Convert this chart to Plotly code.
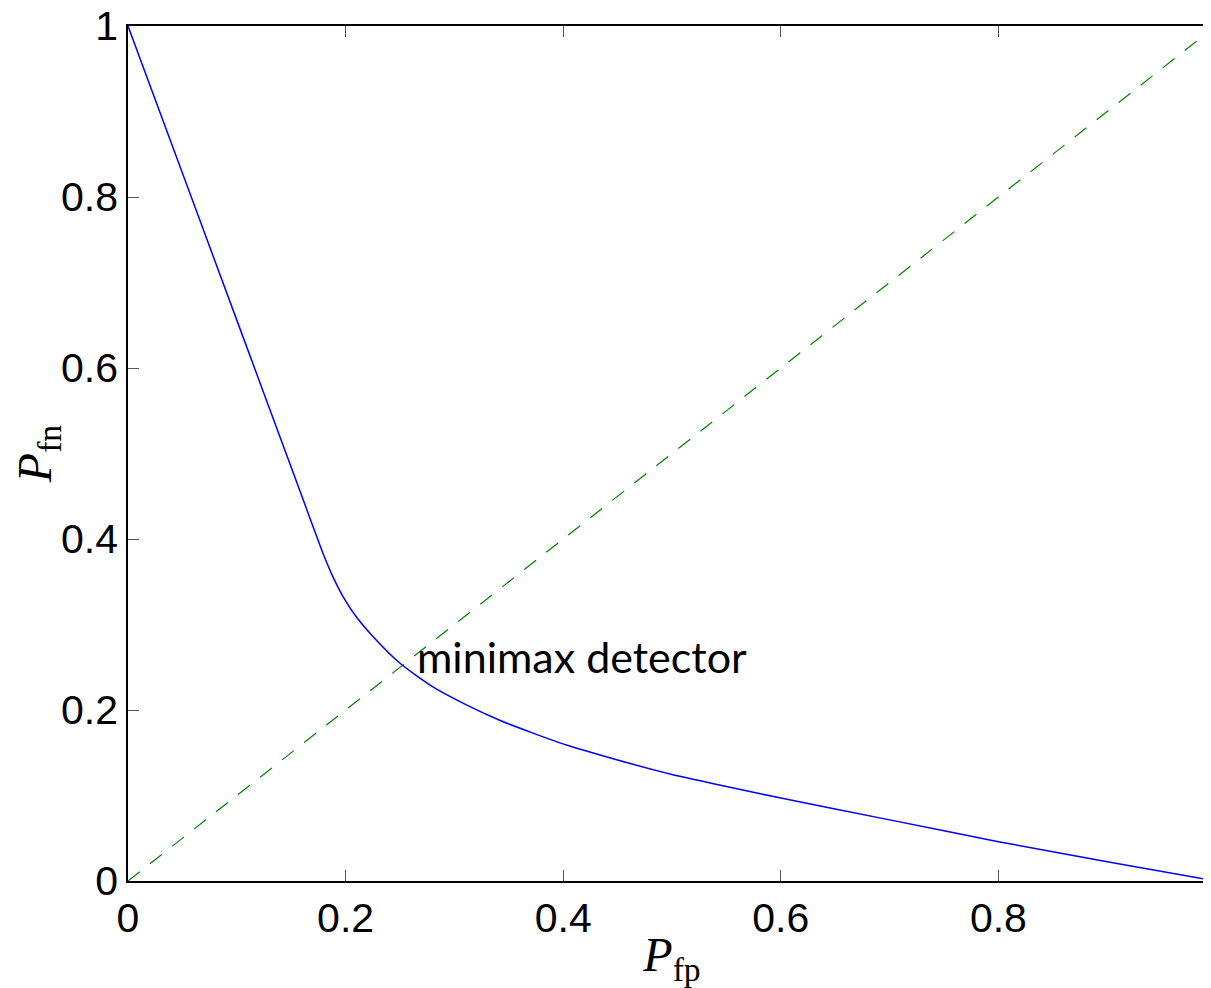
import plotly.graph_objects as go

# ROC-style tradeoff curve (blue)
pfp = [0.0, 0.05, 0.10, 0.15, 0.1685, 0.179, 0.1883, 0.1975, 0.2098, 0.2251, 0.2497,
       0.2803, 0.311, 0.3416, 0.3722, 0.403, 0.45, 0.50, 0.55, 0.60, 0.70, 0.80, 0.90, 1.0]
pfn = [1.0, 0.828, 0.656, 0.484, 0.420, 0.384, 0.356, 0.333, 0.309, 0.286, 0.255,
       0.227, 0.206, 0.188, 0.173, 0.159, 0.1415, 0.1245, 0.1105, 0.097, 0.0715, 0.046,
       0.0225, 0.0]

# diagonal Pfp = Pfn (green dashed)
diag_x = [0.0, 1.0]
diag_y = [0.0, 1.0]

tick_vals = [0, 0.2, 0.4, 0.6, 0.8, 1]
tick_text = ["0", "0.2", "0.4", "0.6", "0.8", "1"]

label_text = "minimax detector"
label_pos = (0.264, 0.262)

fig = go.Figure()
fig.add_trace(go.Scatter(x=diag_x, y=diag_y, mode="lines",
                         line=dict(color="#008000", width=1.2, dash="15px,13px"),
                         showlegend=False, hoverinfo="skip"))
fig.add_trace(go.Scatter(x=pfp, y=pfn, mode="lines",
                         line=dict(color="#0000FF", width=1.5, shape="spline", smoothing=0.6),
                         showlegend=False, hoverinfo="skip"))

fig.add_annotation(x=label_pos[0], y=label_pos[1], xref="x", yref="y",
                   text=label_text, showarrow=False, xanchor="left", yanchor="middle",
                   font=dict(family="Lato", size=43, color="black"))

axis_common = dict(
    range=[0, 1], showgrid=False, zeroline=False, showline=True, linecolor="black",
    linewidth=1.5, mirror="ticks", ticks="inside", ticklen=11, tickwidth=1,
    tickcolor="#555555", tickvals=tick_vals, ticktext=tick_text,
    automargin=False, ticklabeloverflow="allow",
    tickfont=dict(family="Liberation Sans", size=41, color="black"),
)

fig.update_xaxes(**axis_common,
                 title=dict(text="<i>P</i><sub>fp</sub>", standoff=8,
                            font=dict(family="Liberation Serif", size=48, color="black")))
fig.update_yaxes(**axis_common,
                 title=dict(text="<i>P</i><sub>fn</sub>", standoff=12,
                            font=dict(family="Liberation Serif", size=48, color="black")))

fig.update_layout(
    width=1210, height=980, autosize=False,
    margin=dict(l=120, r=2, t=18, b=107),
    paper_bgcolor="white", plot_bgcolor="white",
)

fig.write_html("out.html")
